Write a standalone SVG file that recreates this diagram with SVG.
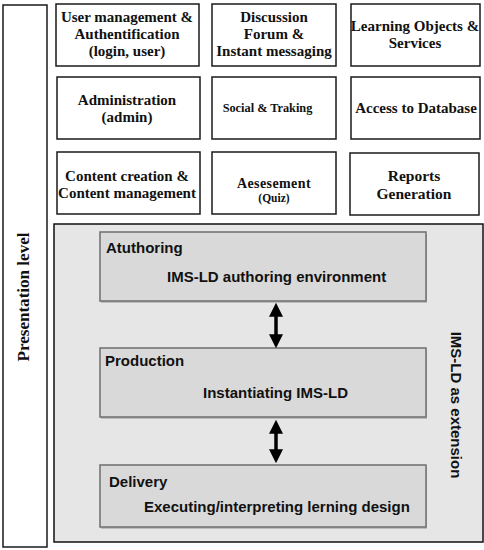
<svg xmlns="http://www.w3.org/2000/svg" width="484" height="550" viewBox="0 0 484 550">
<defs>
<marker id="ah" viewBox="0 0 10 10" refX="2" refY="5" markerWidth="4" markerHeight="4.6" orient="auto-start-reverse" markerUnits="strokeWidth"><path d="M0,0 L10,5 L0,10 Z" fill="#000"/></marker>
</defs>
<style>
.box{fill:#fff;stroke:#1a1a1a;stroke-width:1.5}
.t{font-family:"Liberation Serif","Times New Roman",serif;font-weight:bold;font-size:15px;fill:#111;text-anchor:middle}
.s{font-family:"Liberation Sans",Arial,sans-serif;font-weight:bold;font-size:15px;fill:#111}
.ib{fill:#d9d9d9;stroke:#6e6e6e;stroke-width:1.5}
.sh{fill:#bdbdbd}
.arr{stroke:#000;stroke-width:3.5;fill:none}
</style>
<g id="presentation">
<rect x="3" y="5" width="44" height="542" class="box"/>
<text class="t" style="font-size:16px" textLength="129" lengthAdjust="spacingAndGlyphs" transform="translate(29,297) rotate(-90)">Presentation level</text>
</g>
<g id="user-management">
<rect x="56" y="4" width="143" height="62" class="box"/>
<text class="t" x="127" y="22">User management &amp;</text>
<text class="t" x="127" y="39">Authentification</text>
<text class="t" x="127" y="56">(login, user)</text>
</g>
<g id="discussion">
<rect x="212" y="4" width="124" height="62" class="box"/>
<text class="t" x="274" y="22">Discussion</text>
<text class="t" x="274" y="39">Forum &amp;</text>
<text class="t" x="274" y="56">Instant messaging</text>
</g>
<g id="learning-objects">
<rect x="351" y="4" width="129" height="62" class="box"/>
<text class="t" x="415" y="31">Learning Objects &amp;</text>
<text class="t" x="415" y="48">Services</text>
</g>
<g id="administration">
<rect x="57" y="77" width="143" height="62" class="box"/>
<text class="t" x="127" y="105">Administration</text>
<text class="t" x="127" y="122">(admin)</text>
</g>
<g id="social">
<rect x="212" y="77" width="124" height="62" class="box"/>
<text class="t" x="267.5" y="112" style="font-size:12.3px">Social &amp; Traking</text>
</g>
<g id="database">
<rect x="351" y="77" width="129" height="62" class="box"/>
<text class="t" x="416" y="113">Access to Database</text>
</g>
<g id="content">
<rect x="57" y="152" width="143" height="62" class="box"/>
<text class="t" x="127" y="181">Content creation &amp;</text>
<text class="t" x="127" y="198">Content management</text>
</g>
<g id="assessment">
<rect x="212" y="152" width="124" height="62" class="box"/>
<text class="t" x="274" y="188" style="font-size:14px;letter-spacing:0.4px">Aesesement</text>
<text class="t" x="274" y="202" style="font-size:11.5px">(Quiz)</text>
</g>
<g id="reports">
<rect x="350" y="153" width="129" height="62" class="box"/>
<text class="t" x="414" y="181" style="font-size:15.5px">Reports</text>
<text class="t" x="414" y="199" style="font-size:15.5px">Generation</text>
</g>
<g id="imsld">
<rect x="54" y="224" width="429" height="318" fill="#e6e6e6" stroke="#111" stroke-width="1.5"/>
<text class="s" text-anchor="middle" fill="#141428" transform="translate(451,405) rotate(90)">IMS-LD as extension</text>
</g>
<g id="authoring">
<rect x="101" y="234" width="326" height="69" class="sh"/>
<rect x="100" y="232" width="326" height="69" class="ib"/>
<text class="s" x="106" y="253">Atuthoring</text>
<text class="s" x="167" y="282">IMS-LD authoring environment</text>
</g>
<g id="production">
<rect x="101" y="350" width="326" height="69" class="sh"/>
<rect x="100" y="348" width="326" height="69" class="ib"/>
<text class="s" x="105" y="366">Production</text>
<text class="s" x="203" y="398">Instantiating IMS-LD</text>
</g>
<g id="delivery">
<rect x="101" y="467" width="326" height="62" class="sh"/>
<rect x="100" y="465" width="326" height="62" class="ib"/>
<text class="s" x="109" y="487">Delivery</text>
<text class="s" x="144" y="512">Executing/interpreting lerning design</text>
</g>
<g id="connectors">
<line x1="276" y1="314" x2="276" y2="337" class="arr" marker-start="url(#ah)" marker-end="url(#ah)"/>
<line x1="276" y1="431" x2="276" y2="452" class="arr" marker-start="url(#ah)" marker-end="url(#ah)"/>
</g>
</svg>
